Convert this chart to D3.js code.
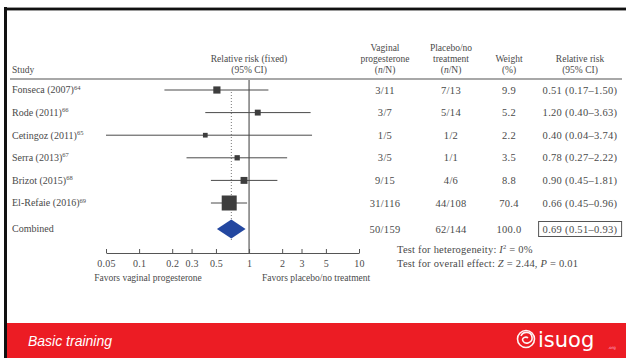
<!DOCTYPE html>
<html>
<head>
<meta charset="utf-8">
<script src="https://cdn.jsdelivr.net/npm/d3@7"></script>
<style>
  html, body { margin: 0; padding: 0; background: #fff; }
  svg { display: block; }
  .serif { font-family: "Liberation Serif", "DejaVu Serif", serif; fill: #4a4a4a; }
  .num { letter-spacing: 0.3px; }
</style>
</head>
<body>
<svg id="chart" width="626" height="358"></svg>
<script>
// Trials in the fixed-effect meta-analysis
const studies  = ["Fonseca (2007)", "Rode (2011)", "Cetingoz (2011)", "Serra (2013)", "Brizot (2015)", "El-Refaie (2016)"];
const refs     = ["64", "66", "65", "67", "68", "69"];
const progN    = ["3/11", "3/7", "1/5", "3/5", "9/15", "31/116"];
const placeboN = ["7/13", "5/14", "1/2", "1/1", "4/6", "44/108"];
const weights  = [9.9, 5.2, 2.2, 3.5, 8.8, 70.4];
const rr       = [0.51, 1.20, 0.40, 0.78, 0.90, 0.66];
const rrLow    = [0.17, 0.40, 0.04, 0.27, 0.45, 0.45];
const rrHigh   = [1.50, 3.63, 3.74, 2.22, 1.81, 0.96];

// Pooled estimate
const pooledLabel = "Combined";
const pooledProg = "50/159";
const pooledPlacebo = "62/144";
const pooledWeight = 100.0;
const pooledRR = 0.69, pooledLow = 0.51, pooledHigh = 0.93;

const axisTicks = [0.05, 0.1, 0.2, 0.3, 0.5, 1, 2, 3, 5, 10];

const fmt2 = d3.format(".2f");
const fmt1 = d3.format(".1f");
const ciText = (r, l, h) => `${fmt2(r)} (${fmt2(l)}\u2013${fmt2(h)})`;

const svg = d3.select("#chart");

// Frame
svg.append("rect").attr("x", 4).attr("y", 7).attr("width", 622).attr("height", 4).attr("fill", "#9a9a9a");
svg.append("rect").attr("x", 4).attr("y", 8).attr("width", 622).attr("height", 2).attr("fill", "#111");
svg.append("rect").attr("x", 4).attr("y", 7).attr("width", 3).attr("height", 351).attr("fill", "#111");

// Scales
const x = d3.scaleLog().domain([0.05, 10]).range([106, 359]).clamp(true);
const y = d3.scalePoint().domain(studies).range([90, 203]);
const yPooled = 229;
const side = d3.scaleSqrt().domain([0, 70.4]).range([2.5, 15]);

const col = { study: 12, prog: 385, placebo: 451, weight: 509, ci: 580 };
const fs = 9.5;     // labels
const fsNum = 10.5; // numeric columns and statistics

// Header
const header = svg.append("g").attr("class", "serif").attr("font-size", fs);
header.append("text").attr("x", col.study).attr("y", 73).text("Study");
const centred = (cx, lines) => {
  lines.forEach(([yy, parts]) => {
    const t = header.append("text").attr("x", cx).attr("y", yy).attr("text-anchor", "middle");
    parts.forEach(p => t.append("tspan").attr("font-style", p.i ? "italic" : null).text(p.t));
  });
};
const nN = [{ t: "(" }, { t: "n", i: true }, { t: "/N)" }];
centred(x(1), [[62, [{ t: "Relative risk (fixed)" }]], [73, [{ t: "(95% CI)" }]]]);
centred(col.prog, [[51, [{ t: "Vaginal" }]], [62, [{ t: "progesterone" }]], [73, nN]]);
centred(col.placebo, [[51, [{ t: "Placebo/no" }]], [62, [{ t: "treatment" }]], [73, nN]]);
centred(col.weight, [[62, [{ t: "Weight" }]], [73, [{ t: "(%)" }]]]);
centred(col.ci, [[62, [{ t: "Relative risk" }]], [73, [{ t: "(95% CI)" }]]]);

svg.append("rect").attr("x", 10).attr("y", 78).attr("width", 612).attr("height", 2).attr("fill", "#a8a8a8");

// Reference lines: no effect (RR = 1) and pooled estimate
svg.append("line").attr("x1", x(1)).attr("x2", x(1)).attr("y1", 80).attr("y2", 253)
  .attr("stroke", "#3a3a3a").attr("stroke-width", 1);
svg.append("line").attr("x1", x(pooledRR)).attr("x2", x(pooledRR)).attr("y1", 92).attr("y2", 241)
  .attr("stroke", "#777").attr("stroke-width", 1).attr("stroke-dasharray", "1,2");

// Study rows
const rows = svg.append("g");
studies.forEach((s, i) => {
  const yy = y(s);
  rows.append("line").attr("x1", x(rrLow[i])).attr("x2", x(rrHigh[i])).attr("y1", yy).attr("y2", yy)
    .attr("stroke", "#4a4a4a").attr("stroke-width", 1);
  const w = side(weights[i]);
  rows.append("rect").attr("x", x(rr[i]) - w / 2).attr("y", yy - w / 2).attr("width", w).attr("height", w)
    .attr("fill", "#3d3d3d");

  const t = rows.append("text").attr("class", "serif").attr("font-size", 10).attr("x", col.study).attr("y", yy + 3.4);
  t.append("tspan").text(s);
  t.append("tspan").attr("font-size", 6.5).attr("dy", -3.8).text(refs[i]);

  const cells = [[col.prog, progN[i]], [col.placebo, placeboN[i]], [col.weight, fmt1(weights[i])], [col.ci, ciText(rr[i], rrLow[i], rrHigh[i])]];
  cells.forEach(([cx, txt]) => rows.append("text").attr("class", "serif num").attr("font-size", fsNum)
    .attr("x", cx).attr("y", yy + 3.6).attr("text-anchor", "middle").text(txt));
});

// Pooled row
const pd = [[x(pooledLow), yPooled], [x(pooledRR), yPooled - 9.5], [x(pooledHigh), yPooled], [x(pooledRR), yPooled + 9.5]];
svg.append("path").attr("d", d3.line()(pd) + "Z").attr("fill", "#2347a0");
svg.append("text").attr("class", "serif").attr("font-size", 10).attr("x", col.study).attr("y", yPooled + 3.4).text(pooledLabel);
[[col.prog, pooledProg], [col.placebo, pooledPlacebo], [col.weight, fmt1(pooledWeight)]].forEach(([cx, txt]) =>
  svg.append("text").attr("class", "serif num").attr("font-size", fsNum).attr("x", cx).attr("y", yPooled + 3.6)
    .attr("text-anchor", "middle").text(txt));
const pooledCI = svg.append("text").attr("class", "serif num").attr("font-size", fsNum).attr("x", col.ci).attr("y", yPooled + 3.6)
  .attr("text-anchor", "middle").text(ciText(pooledRR, pooledLow, pooledHigh));
const bb = pooledCI.node().getBBox();
svg.append("rect").attr("x", bb.x - 4).attr("y", yPooled - 7.5).attr("width", bb.width + 8).attr("height", 15)
  .attr("fill", "none").attr("stroke", "#555").attr("stroke-width", 1);

// Axis
const axis = d3.axisBottom(x).tickValues(axisTicks).tickFormat(d => String(d))
  .tickSizeInner(-4).tickSizeOuter(0).tickPadding(7);
const ag = svg.append("g").attr("transform", "translate(0,253)").call(axis);
ag.select(".domain").attr("stroke", "#555");
ag.selectAll(".tick line").attr("stroke", "#555");
ag.selectAll(".tick text").attr("font-family", "Liberation Serif, DejaVu Serif, serif").attr("font-size", 10)
  .attr("fill", "#4a4a4a").attr("letter-spacing", "0.2px");

svg.append("text").attr("class", "serif").attr("font-size", fs).attr("x", 148).attr("y", 281)
  .attr("text-anchor", "middle").text("Favors vaginal progesterone");
svg.append("text").attr("class", "serif").attr("font-size", fs).attr("x", 262).attr("y", 281)
  .text("Favors placebo/no treatment");

// Test statistics
const het = svg.append("text").attr("class", "serif").attr("font-size", fsNum).attr("letter-spacing", "0.2px").attr("x", 397).attr("y", 253);
het.append("tspan").text("Test for heterogeneity: ");
het.append("tspan").attr("font-style", "italic").text("I");
het.append("tspan").attr("font-size", 6.5).attr("dy", -3.8).text("2");
het.append("tspan").attr("dy", 3.8).text(" = 0%");
const eff = svg.append("text").attr("class", "serif").attr("font-size", fsNum).attr("letter-spacing", "0.2px").attr("x", 397).attr("y", 267);
eff.append("tspan").text("Test for overall effect: ");
eff.append("tspan").attr("font-style", "italic").text("Z");
eff.append("tspan").text(" = 2.44, ");
eff.append("tspan").attr("font-style", "italic").text("P");
eff.append("tspan").text(" = 0.01");

// Footer band
svg.append("rect").attr("x", 7).attr("y", 323).attr("width", 619).attr("height", 35).attr("fill", "#ec1c24");
svg.append("text").attr("x", 28).attr("y", 346).attr("font-family", "Liberation Sans, Arial, sans-serif")
  .attr("font-style", "italic").attr("font-size", 14).attr("fill", "#fff").text("Basic training");

const logo = svg.append("g").attr("fill", "none").attr("stroke", "#fff").attr("stroke-width", 1.6).attr("opacity", 0.95);
logo.append("circle").attr("cx", 526).attr("cy", 339).attr("r", 8.5);
logo.append("path").attr("d", "M521,336 C523,331 531,331 532,337 C533,343 525,345 523,341 C521,338 526,336 528,338");
svg.append("text").attr("x", 538).attr("y", 347).attr("font-family", "DejaVu Sans, sans-serif")
  .attr("font-size", 21).attr("fill", "#fff").text("isuog");
svg.append("text").attr("x", 608).attr("y", 349).attr("font-family", "DejaVu Sans, sans-serif")
  .attr("font-size", 4).attr("fill", "#fbd").text(".org");
</script>
</body>
</html>
